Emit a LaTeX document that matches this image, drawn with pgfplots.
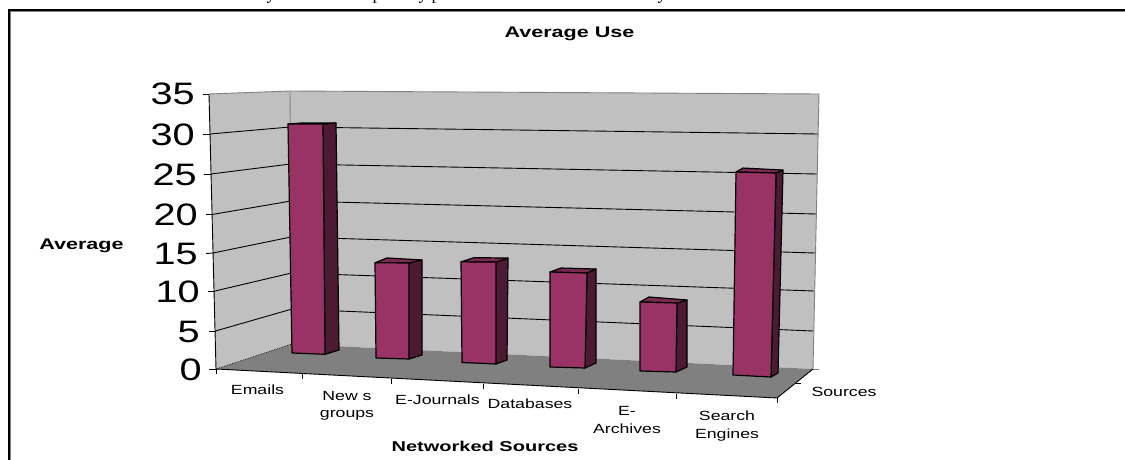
\documentclass[border=0pt]{standalone}
\usepackage{fontspec}
\usepackage{pgfplots}
\pgfplotsset{compat=1.18}
\newfontfamily\chartfont[FakeStretch=1.4]{Liberation Sans}
\newfontfamily\labelfont[FakeStretch=1.33]{Liberation Sans}
\newfontfamily\numberfont[FakeStretch=1.28]{Liberation Sans}
\newfontfamily\bodyfont{Liberation Serif}
\definecolor{wall}{HTML}{C0C0C0}
\definecolor{floorgrey}{HTML}{808080}
\definecolor{barfront}{HTML}{993366}
\definecolor{barside}{HTML}{4D1A33}
\definecolor{bartop}{HTML}{7A2952}
% One face of a bar: each corner is x, floor position b, value v;
% the drawn height is v times the vertical scale at the bar's depth.
\newcommand\face[3]{%
  \addplot[draw=black,line width=1.2pt,line join=round,fill=#1]
    table[x=x,y expr=\thisrow{b}-#2*\thisrow{v},row sep=\\]{x b v\\ #3\\} -- cycle;}
\newcommand\lbl[3]{\node[anchor=center,inner sep=0pt] at (axis cs:#1,#2) {\labelfont\fontsize{13.3}{15}\selectfont #3};}
\newcommand\num[3]{\node[anchor=east,inner sep=0pt] at (axis cs:#1,#2) {\numberfont\fontsize{31}{33}\selectfont #3};}
\newcommand\boldlbl[4]{\node[anchor=center,inner sep=0pt] at (axis cs:#1,#2) {\chartfont\bfseries\fontsize{#3}{16}\selectfont #4};}
\newcommand\seg[2][black]{\addplot[draw=#1,line width=0.9pt] coordinates {#2};}
\newcommand\cutletter[2]{\node[anchor=base,inner sep=0pt] at (axis cs:#1,0) {\bodyfont\fontsize{18}{20}\selectfont #2};}
\begin{document}
\begin{tikzpicture}[x=1pt,y=1pt]
\path[use as bounding box] (0,0) rectangle (1125,460);
\clip (0,0) rectangle (1125,460);
\begin{axis}[
  at={(0,0)},anchor=south west,
  scale only axis,width=1125pt,height=460pt,
  xmin=0,xmax=1125,ymin=0,ymax=460,y dir=reverse,
  hide axis,clip=false,no markers]

% running text of the page above the chart
\cutletter{271}{y}
\cutletter{377}{p}
\cutletter{423}{y}
\cutletter{436}{p}
\cutletter{662}{y}

% chart frame, open on the right and at the bottom
\seg[floorgrey]{(10.8,460) (10.8,11.8) (1125,11.8)}
\addplot[draw=black,line width=1.6pt] coordinates {(9.2,460) (9.2,10) (1125,10)};

% side wall, back wall and floor
\addplot[draw=none,fill=wall] coordinates {(209,94) (290,91) (292,344) (216,369)} -- cycle;
\addplot[draw=none,fill=wall] coordinates {(290,91) (819,94) (813,369) (292,344)} -- cycle;
\addplot[draw=none,fill=floorgrey] coordinates {(216,369) (292,344) (813,369) (777,398)} -- cycle;

% gridlines at 5, 10, ..., 30 across both walls
\seg{(210,134) (290,127) (818,134)}
\seg{(211,174) (290.5,164) (817,174)}
\seg{(212,214.5) (291,201) (816,214)}
\seg{(213,253) (291,237) (815,253)}
\seg{(215,291) (291.5,273) (814,291)}
\seg{(215.5,331) (292,309) (813,331)}

% wall edges
\seg[floorgrey]{(209,94) (290,91) (819,94) (813,369)}
\seg[floorgrey]{(290,91) (292,344)}
\addplot[draw=black,line width=0.7pt,densely dotted] coordinates {(216,369) (292,344)};
\seg{(209,94) (216,369)}
\seg{(216,369) (777,398) (813,369)}
\seg[floorgrey]{(813,369) (819,369)}

% value axis ticks
\seg{(203,94) (209,94)}
\seg{(203,134) (210,134)}
\seg{(204,174) (211,174)}
\seg{(206,214.5) (212,214.5)}
\seg{(206,253.5) (213,253)}
\seg{(208,291) (215,291)}
\seg{(209,331) (215.5,331)}
\seg{(209,369) (216,369)}

% category ticks and depth ticks
\seg{(216,369) (216,374)}
\seg{(302,373.5) (302,379)}
\seg{(391,378.5) (391,384)}
\seg{(483,383.5) (483,388.5)}
\seg{(578,388.5) (578,394)}
\seg{(676,393.5) (676,399)}
\seg{(777,398) (777,403)}
\seg{(796,383) (801,383)}

% Emails: 30.3
\face{barside}{7.56}{325 354.3 0\\ 339 350 0\\ 336 352.1 30.3\\ 323 353.1 30.3}
\face{bartop}{7.56}{288 353.1 30.3\\ 323 353.1 30.3\\ 336 352.1 30.3\\ 301 352.1 30.3}
\face{barfront}{7.56}{292 353 0\\ 325 354.3 0\\ 323 353.1 30.3\\ 288 353.1 30.3}
% News groups: 12.4
\face{barside}{7.68}{409 359 0\\ 422 355 0\\ 422 355.2 12.4\\ 409 358.2 12.4}
\face{bartop}{7.68}{375 358 12.4\\ 409 358.2 12.4\\ 422 355.2 12.4\\ 387 353.2 12.4}
\face{barfront}{7.68}{376 358 0\\ 409 359 0\\ 409 358.2 12.4\\ 375 358 12.4}
% E-Journals: 12.9
\face{barside}{7.81}{496 364 0\\ 507 360 0\\ 508 358.8 12.9\\ 496 362.8 12.9}
\face{bartop}{7.81}{461 362.6 12.9\\ 496 362.8 12.9\\ 508 358.8 12.9\\ 474 358.4 12.9}
\face{barfront}{7.81}{462 362.5 0\\ 496 364 0\\ 496 362.8 12.9\\ 461 362.6 12.9}
% Databases: 12
\face{barside}{7.94}{585 368 0\\ 596 363 0\\ 596 364.3 12\\ 587 368.3 12}
\face{bartop}{7.94}{550 367.3 12\\ 587 368.3 12\\ 596 364.3 12\\ 561 363.3 12}
\face{barfront}{7.94}{550 367 0\\ 585 368 0\\ 587 368.3 12\\ 550 367.3 12}
% E-Archives: 8.6
\face{barside}{8.07}{676 372 0\\ 687 367 0\\ 687 369.4 8.6\\ 677 372.4 8.6}
\face{bartop}{8.07}{640 371.4 8.6\\ 677 372.4 8.6\\ 687 369.4 8.6\\ 649 366.4 8.6}
\face{barfront}{8.07}{640 371 0\\ 676 372 0\\ 677 372.4 8.6\\ 640 371.4 8.6}
% Search Engines: 24.8
\face{barside}{8.2}{771 377 0\\ 778 373 0\\ 783 373.4 24.8\\ 776 376.4 24.8}
\face{bartop}{8.2}{736 375.4 24.8\\ 776 376.4 24.8\\ 783 373.4 24.8\\ 743 371.4 24.8}
\face{barfront}{8.2}{733 375 0\\ 771 377 0\\ 776 376.4 24.8\\ 736 375.4 24.8}

% value axis numbers
\num{195}{94}{35}
\num{195}{135}{30}
\num{197}{175}{25}
\num{198}{215}{20}
\num{198}{254}{15}
\num{200}{292}{10}
\num{200}{332}{5}
\num{202}{370}{0}

% category names
\lbl{257.5}{390}{Emails}
\lbl{347}{396}{New s}
\lbl{347}{415}{groups}
\lbl{437.5}{400}{E-Journals}
\lbl{530}{404}{Databases}
\lbl{627}{411}{E-}
\lbl{627}{429}{Archives}
\lbl{727}{416}{Search}
\lbl{727}{435}{Engines}
\lbl{844}{392}{Sources}

% titles
\boldlbl{569.5}{34}{15.4}{Average Use}
\boldlbl{81.5}{246}{15.4}{Average}
\boldlbl{485}{446}{14.3}{Networked Sources}
\end{axis}
\end{tikzpicture}
\end{document}
